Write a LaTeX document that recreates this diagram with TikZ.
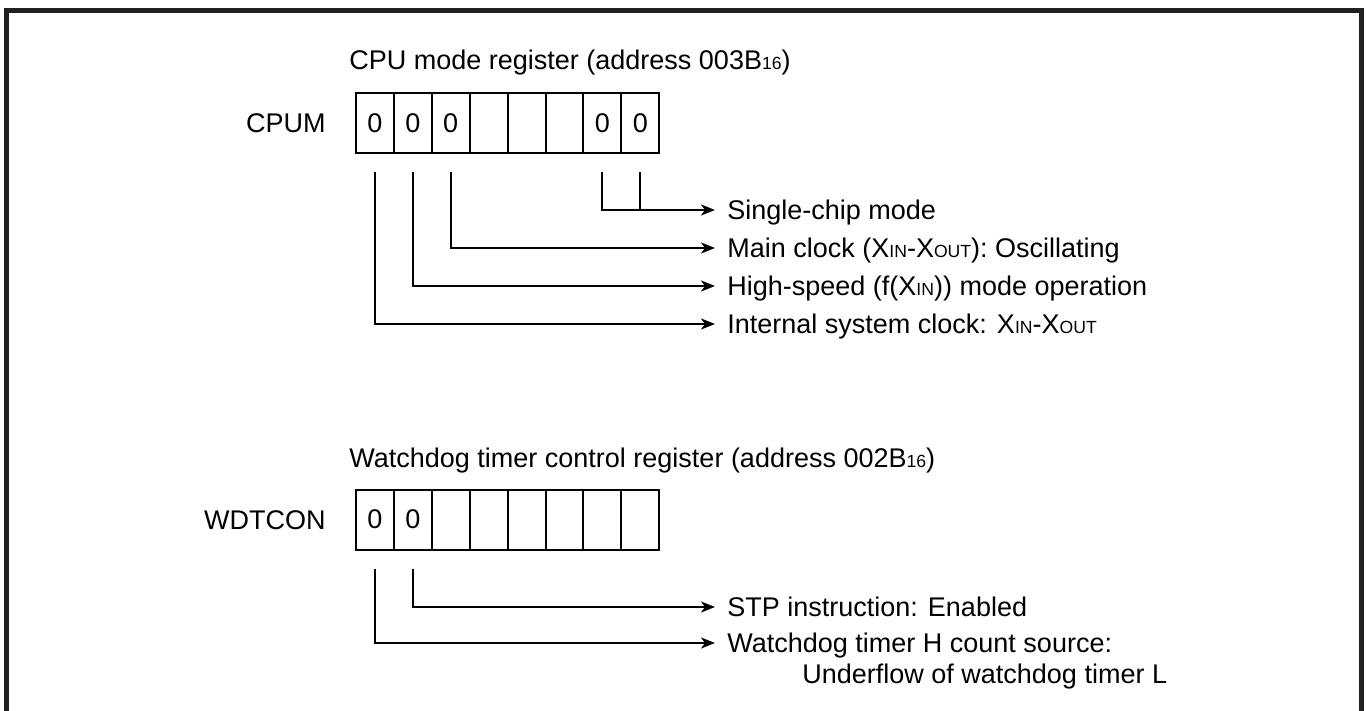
\documentclass[tikz,border=0pt]{standalone}
\usepackage{fontspec}
\setmainfont{Liberation Sans}
\usepackage{tikz}
\usetikzlibrary{arrows.meta}
\definecolor{frame}{RGB}{35,31,32}
\newcommand{\lo}[1]{{\fontsize{8.8pt}{8.8pt}\selectfont #1}}

\tikzset{
  bit/.style={draw, line width=1pt, minimum width=18.95pt, minimum height=30pt, inner sep=0pt},
  regname/.style={anchor=east, inner sep=0pt, text height=9.6pt, text depth=0pt},
  regtitle/.style={anchor=base west, inner sep=0pt},
  desc/.style={anchor=west, inner xsep=6pt, inner ysep=0pt, text height=9.6pt, text depth=0pt},
  tap/.style={line width=1pt},
  conn/.style={tap, -{Stealth[length=7pt,width=5.5pt,inset=2pt]}}
}

\begin{document}
\begin{tikzpicture}[x=0.5pt,y=-0.5pt,font=\fontsize{13.5pt}{16pt}\selectfont]
  \useasboundingbox (0,0) rectangle (1369,711);
  % frame, open at the bottom
  \draw[frame,line width=2.5pt] (6,711) -- (6,10.5) -- (1361.5,10.5) -- (1361.5,711);

  % CPU mode register
  \node[regtitle] (cputtl) at (349,70) {CPU mode register (address 003B\lo{16})};
  \node[regname] (cpum) at (326,123) {CPUM};
  \foreach \i/\v in {1/0,2/0,3/0,4/{},5/{},6/{},7/0,8/0}
    \node[bit] (c\i) at ({356+37.9*(\i-0.5)},123) {\v};

  \node[desc] (sgl) at (715,210) {Single-chip mode};
  \node[desc] (mclk) at (715,248) {Main clock (X\lo{IN}-X\lo{OUT}): Oscillating};
  \node[desc] (hspd) at (715,286) {High-speed (f(X\lo{IN})) mode operation};
  \node[desc] (isck) at (715,324) {Internal system clock: X\lo{IN}-X\lo{OUT}};

  \draw[tap] ([yshift=-9pt]c8.south) -- (c8.south |- sgl.west);
  \draw[conn] ([yshift=-9pt]c7.south) |- (sgl.west);
  \draw[conn] ([yshift=-9pt]c3.south) |- (mclk.west);
  \draw[conn] ([yshift=-9pt]c2.south) |- (hspd.west);
  \draw[conn] ([yshift=-9pt]c1.south) |- (isck.west);

  % watchdog timer control register
  \node[regtitle] (wdttl) at (349,467) {Watchdog timer control register (address 002B\lo{16})};
  \node[regname] (wdtcon) at (326,519.5) {WDTCON};
  \foreach \i/\v in {1/0,2/0,3/{},4/{},5/{},6/{},7/{},8/{}}
    \node[bit] (w\i) at ({356+37.9*(\i-0.5)},519.5) {\v};

  \node[desc] (stp) at (715,607) {STP instruction: Enabled};
  \node[desc] (wsrc) at (715,643) {Watchdog timer H count source:};
  \node[desc] (uflw) at (790,674) {Underflow of watchdog timer L};

  \draw[conn] ([yshift=-9pt]w2.south) |- (stp.west);
  \draw[conn] ([yshift=-9pt]w1.south) |- (wsrc.west);
\end{tikzpicture}
\end{document}
